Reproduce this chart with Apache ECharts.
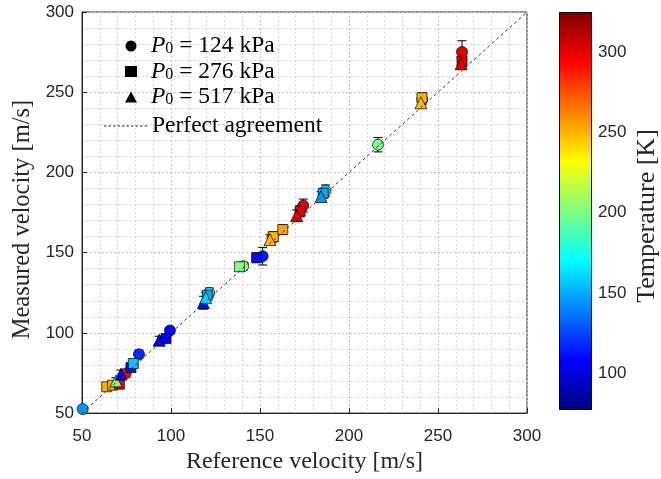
<!DOCTYPE html>
<html>
<head>
<meta charset="utf-8">
<script src="https://cdn.jsdelivr.net/npm/echarts@6/dist/echarts.min.js"></script>
<style>html,body{margin:0;padding:0;background:#fff}#c{width:661px;height:479px}</style>
</head>
<body>
<div id="c"></div>
<script>
// [reference velocity, measured velocity, error, temperature K]
var p124 = [
  [50.4, 52.5, 1.5, 145],
  [74.5, 74.7, 2.5, 295],
  [82.0, 86.7, 2.5, 118],
  [99.4, 101.5, 2.0, 110],
  [121.5, 125.0, 3.0, 160],
  [140.6, 141.6, 2.5, 200],
  [151.5, 147.8, 5.5, 115],
  [157.0, 159.5, 3.0, 252],
  [174.3, 179.4, 4.0, 300],
  [186.8, 188.7, 3.5, 160],
  [216.3, 217.3, 4.5, 200],
  [241.2, 245.5, 3.0, 248],
  [263.5, 275.1, 7.0, 300]
];
var p276 = [
  [63.9, 66.4, 2.0, 252],
  [67.2, 67.4, 2.0, 252],
  [71.0, 68.0, 2.0, 295],
  [77.5, 78.4, 2.0, 112],
  [78.8, 80.9, 2.0, 155],
  [97.2, 96.5, 2.0, 108],
  [120.4, 123.4, 2.5, 150],
  [138.4, 141.2, 2.5, 200],
  [148.1, 146.8, 3.0, 110],
  [157.5, 160.0, 3.0, 250],
  [162.8, 164.4, 3.0, 255],
  [172.5, 175.8, 3.5, 300],
  [185.5, 187.0, 3.0, 150],
  [241.0, 246.5, 3.0, 250],
  [263.5, 269.5, 4.0, 300]
];
var p517 = [
  [69.1, 70.1, 2.0, 200],
  [71.9, 74.3, 2.5, 110],
  [93.4, 95.4, 2.5, 108],
  [118.2, 118.8, 4.0, 112],
  [119.5, 122.0, 3.0, 160],
  [155.6, 158.2, 3.0, 250],
  [170.6, 173.1, 3.5, 300],
  [184.3, 185.0, 3.0, 145],
  [240.4, 243.4, 3.0, 248],
  [263.0, 267.7, 3.5, 300]
];
var perfectLine = [[50, 50], [300, 300]];
var axisMin = 50, axisMax = 300, axisStep = 50;
var tempMin = 77, tempMax = 325;
var tempTicks = [100, 150, 200, 250, 300];
var jet = ['#000080', '#0000FF', '#0080FF', '#00FFFF', '#80FF80', '#FFFF00', '#FF8000', '#FF0000', '#800000'];
var lineName = 'Perfect agreement';
var legendText = {
  'P124': '{g|}{i|P}{s|0}{t| = 124 kPa}',
  'P276': '{g|}{i|P}{s|0}{t| = 276 kPa}',
  'P517': '{g|}{i|P}{s|0}{t| = 517 kPa}',
  'Perfect agreement': '{t|Perfect agreement}'
};

var serif = 'Liberation Serif';
var sans = 'Liberation Sans';
var ink = '#262626';

var chart = echarts.init(document.getElementById('c'), null, {renderer: 'canvas'});

var gradStops = jet.map(function (c, i) { return {offset: i / (jet.length - 1), color: c}; });

function errRender(params, api) {
  var x = api.value(0), y = api.value(1), e = api.value(2);
  var lo = api.coord([x, y - e]);
  var hi = api.coord([x, y + e]);
  var w = 4.5;
  var st = {stroke: '#000', lineWidth: 1};
  return {
    type: 'group',
    children: [
      {type: 'line', shape: {x1: lo[0], y1: lo[1], x2: hi[0], y2: hi[1]}, style: st},
      {type: 'line', shape: {x1: lo[0] - w, y1: lo[1], x2: lo[0] + w, y2: lo[1]}, style: st},
      {type: 'line', shape: {x1: hi[0] - w, y1: hi[1], x2: hi[0] + w, y2: hi[1]}, style: st}
    ]
  };
}

var allPts = p124.concat(p276).concat(p517);

var mainAxisCommon = {
  type: 'value', min: axisMin, max: axisMax, interval: axisStep,
  axisLine: {show: true, onZero: false, lineStyle: {color: ink, width: 1}},
  axisTick: {show: true, inside: true, length: 5, lineStyle: {color: ink}},
  minorTick: {show: false, splitNumber: 5},
  splitLine: {show: true, lineStyle: {color: '#c4c4c4', type: [2, 2], width: 1}},
  minorSplitLine: {show: true, lineStyle: {color: '#d8d8d8', type: [2, 2], width: 1}},
  axisLabel: {color: ink, fontFamily: sans, fontSize: 17},
  nameLocation: 'middle',
  nameTextStyle: {color: ink, fontFamily: serif, fontSize: 24}
};

var legendRich = {
  g: {width: 9},
  i: {fontFamily: serif, fontStyle: 'italic', fontSize: 23.5, lineHeight: 22, color: '#000'},
  s: {fontFamily: serif, fontSize: 16, lineHeight: 22, verticalAlign: 'bottom', color: '#000'},
  t: {fontFamily: serif, fontSize: 23.5, lineHeight: 22, color: '#000'}
};

// dashed line icon
var dashPath = 'path://';
for (var k = 0; k < 10; k++) { dashPath += 'M' + (k * 5) + ' 0h2.6v1h-2.6z'; }

var option = {
  animation: false,
  backgroundColor: '#fff',
  grid: [
    {left: 82, right: 134, top: 12, bottom: 65, show: true, borderColor: ink, borderWidth: 1, backgroundColor: 'transparent'},
    {left: 559, width: 33, top: 12, bottom: 69, show: false}
  ],
  xAxis: [
    Object.assign({}, mainAxisCommon, {
      gridIndex: 0, name: 'Reference velocity [m/s]', nameGap: 34,
      axisLabel: Object.assign({}, mainAxisCommon.axisLabel, {margin: 15})
    }),
    {type: 'category', gridIndex: 1, data: ['T'], show: false}
  ],
  yAxis: [
    Object.assign({}, mainAxisCommon, {
      gridIndex: 0, name: 'Measured velocity [m/s]', nameGap: 46,
      nameTextStyle: {color: ink, fontFamily: serif, fontSize: 24.5, padding: [0, 14, 0, 0]},
      axisLabel: Object.assign({}, mainAxisCommon.axisLabel, {margin: 8})
    }),
    {
      type: 'value', gridIndex: 1, min: tempMin, max: tempMax, position: 'right',
      axisLine: {show: false},
      axisTick: {show: true, inside: true, length: 4, lineStyle: {color: '#000'}, customValues: tempTicks},
      axisLabel: {color: ink, fontFamily: sans, fontSize: 17, margin: 6, customValues: tempTicks},
      splitLine: {show: false},
      name: 'Temperature [K]', nameLocation: 'middle', nameRotate: 90, nameGap: 42,
      nameTextStyle: {color: ink, fontFamily: serif, fontSize: 26, padding: [0, 10, 0, 0]}
    }
  ],
  visualMap: {
    show: false, type: 'continuous', min: tempMin, max: tempMax, dimension: 3,
    seriesIndex: [1, 2, 3], inRange: {color: jet}
  },
  legend: [
    {
      orient: 'vertical', left: 120, top: 29, itemWidth: 12, itemHeight: 11, itemGap: 1.5,
      itemStyle: {color: '#000', borderWidth: 0},
      data: [
        {name: 'P124', icon: 'circle'},
        {name: 'P276', icon: 'rect'},
        {name: 'P517', icon: 'triangle'}
      ],
      formatter: function (n) { return legendText[n]; },
      textStyle: {color: '#000', fontFamily: serif, fontSize: 23.5, lineHeight: 22, rich: legendRich}
    },
    {
      orient: 'vertical', left: 99, top: 109, itemWidth: 43, itemHeight: 1.2,
      data: [{name: lineName, icon: dashPath, itemStyle: {color: '#222'}}],
      formatter: function (n) { return legendText[n]; },
      textStyle: {color: '#000', fontFamily: serif, fontSize: 23.5, lineHeight: 22, rich: legendRich}
    }
  ],
  series: [
    {
      type: 'custom', name: 'err', xAxisIndex: 0, yAxisIndex: 0,
      data: allPts, renderItem: errRender, z: 2, silent: true
    },
    {
      type: 'scatter', name: 'P124', xAxisIndex: 0, yAxisIndex: 0, data: p124,
      symbol: 'circle', symbolSize: 11, z: 3,
      itemStyle: {color: '#000', borderColor: '#000', borderWidth: 0.7, opacity: 1}
    },
    {
      type: 'scatter', name: 'P276', xAxisIndex: 0, yAxisIndex: 0, data: p276,
      symbol: 'rect', symbolSize: 10, z: 3,
      itemStyle: {color: '#000', borderColor: '#000', borderWidth: 0.7, opacity: 1}
    },
    {
      type: 'scatter', name: 'P517', xAxisIndex: 0, yAxisIndex: 0, data: p517,
      symbol: 'triangle', symbolSize: 12, z: 3,
      itemStyle: {color: '#000', borderColor: '#000', borderWidth: 0.7, opacity: 1}
    },
    {
      type: 'line', name: lineName, xAxisIndex: 0, yAxisIndex: 0, data: perfectLine,
      symbol: 'none', z: 4, silent: true,
      lineStyle: {color: '#333', width: 1, type: [3, 3]},
      itemStyle: {color: '#333'}
    },
    {
      type: 'bar', xAxisIndex: 1, yAxisIndex: 1, stack: 'cb', barWidth: '100%',
      data: [tempMin], itemStyle: {color: 'transparent'}, silent: true
    },
    {
      type: 'bar', xAxisIndex: 1, yAxisIndex: 1, stack: 'cb', barWidth: '100%',
      data: [tempMax - tempMin], silent: true,
      itemStyle: {
        borderColor: '#000', borderWidth: 1,
        color: {type: 'linear', x: 0, y: 1, x2: 0, y2: 0, colorStops: gradStops}
      }
    }
  ]
};
chart.setOption(option);
</script>
</body>
</html>
